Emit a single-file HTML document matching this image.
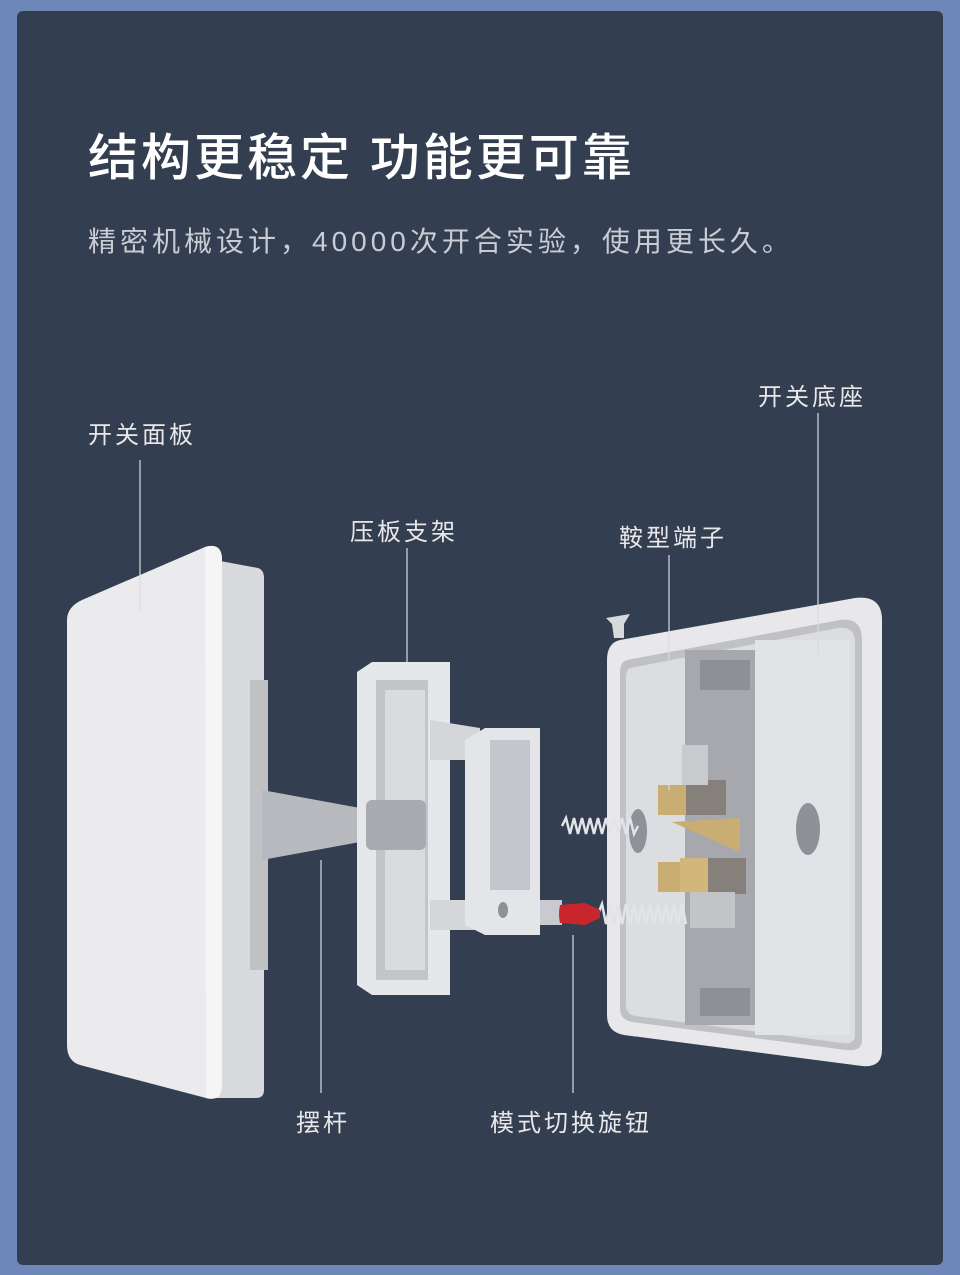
<!DOCTYPE html>
<html><head><meta charset="utf-8"><style>
html,body{margin:0;padding:0}
body{width:960px;height:1275px;background:#6c87b8;position:relative;overflow:hidden;font-family:"Liberation Sans","Noto Sans CJK SC",sans-serif}
.inner{position:absolute;left:17px;top:11px;width:926px;height:1254px;background:#343e51;border-radius:6px}
.t{position:absolute;color:#fff;white-space:nowrap}
.l{font-size:24px;color:#e8e8ea;letter-spacing:3px}
svg{position:absolute;left:0;top:0}
</style></head><body>
<div class="inner"></div>
<div class="t" style="left:88px;top:118px;font-size:50px;font-weight:500;letter-spacing:3px">结构更稳定 功能更可靠</div>
<div class="t" style="left:88px;top:220px;font-size:28px;color:#c9ccd3;letter-spacing:4px">精密机械设计，40000次开合实验，使用更长久。</div>
<div class="t l" style="left:88px;top:415px">开关面板</div>
<div class="t l" style="left:350px;top:512px">压板支架</div>
<div class="t l" style="left:619px;top:518px">鞍型端子</div>
<div class="t l" style="left:758px;top:377px">开关底座</div>
<div class="t l" style="left:296px;top:1103px">摆杆</div>
<div class="t l" style="left:490px;top:1103px">模式切换旋钮</div>
<svg width="960" height="1275" viewBox="0 0 960 1275">
<path d="M215 560 L258 568 Q264 570 264 578 L264 1090 Q264 1098 256 1098 L215 1098 Z" fill="#d9dadd"/>
<rect x="250" y="680" width="18" height="290" fill="#bfc1c5"/>
<path d="M262 790 L360 808 L360 842 L262 860 Z" fill="#b7b9be"/>
<path d="M82 600 L205 547 Q222 542 222 560 L222 1085 Q222 1102 206 1098 L80 1065 Q67 1061 67 1045 L67 620 Q67 607 82 600 Z" fill="#ebebed"/>
<path d="M205 547 Q222 542 222 560 L222 1085 Q222 1102 206 1098 Z" fill="#f5f5f6"/>
<path d="M357 672 L372 662 L450 662 L450 995 L372 995 L357 985 Z" fill="#e6e7ea"/>
<rect x="376" y="680" width="52" height="300" fill="#c3c5ca"/>
<rect x="385" y="690" width="40" height="280" fill="#dadbdf"/>
<path d="M430 720 L480 728 L480 760 L430 760 Z" fill="#d5d6da"/>
<path d="M430 900 L480 900 L480 930 L430 930 Z" fill="#d5d6da"/>
<rect x="366" y="800" width="60" height="50" rx="6" fill="#a9abb1"/>
<path d="M465 740 L485 728 L540 728 L540 935 L485 935 L465 925 Z" fill="#e4e5e8"/>
<rect x="490" y="740" width="40" height="150" fill="#c4c6cb"/>
<ellipse cx="503" cy="910" rx="5" ry="8" fill="#8d9096"/>
<rect x="540" y="900" width="22" height="25" fill="#c9cacf"/>
<path d="M620 640 L855 598 Q882 595 882 620 L882 1050 Q882 1068 862 1066 L624 1035 Q607 1032 607 1015 L607 660 Q607 643 620 640 Z" fill="#e8e8ea"/>
<path d="M627 660 L840 620 Q862 617 862 640 L862 1040 Q862 1052 846 1050 L632 1022 Q620 1020 620 1008 L620 672 Q620 662 627 660 Z" fill="#bfc1c5"/>
<path d="M630 668 L838 628 Q855 626 855 642 L855 1035 Q855 1045 842 1043 L636 1016 Q626 1015 626 1004 L626 678 Q626 670 630 668 Z" fill="#dcdde0"/>
<rect x="685" y="650" width="70" height="375" fill="#a6a8ad"/>
<rect x="700" y="660" width="50" height="30" fill="#8e9096"/>
<rect x="700" y="988" width="50" height="28" fill="#8e9096"/>
<rect x="755" y="640" width="95" height="395" fill="#e2e3e6"/>
<ellipse cx="638" cy="831" rx="9" ry="22" fill="#8e9197"/>
<ellipse cx="808" cy="829" rx="12" ry="26" fill="#8e9197"/>
<rect x="658" y="785" width="28" height="30" fill="#c9ad72"/>
<rect x="686" y="780" width="40" height="35" fill="#86807a"/>
<rect x="682" y="745" width="26" height="40" fill="#c8cacd"/>
<path d="M672 822 L740 818 L740 852 L712 840 Z" fill="#c9ad72"/>
<rect x="658" y="862" width="22" height="30" fill="#c9ad72"/>
<rect x="680" y="858" width="28" height="34" fill="#d3b77a"/>
<rect x="708" y="858" width="38" height="36" fill="#86807a"/>
<rect x="690" y="892" width="45" height="36" fill="#c2c4c8"/>
<path d="M606 618 L630 614 L624 624 L624 638 L614 638 L612 624 Z" fill="#d8d9dc"/>
<g stroke="#e2e4e7" stroke-width="2.5" fill="none">
<path d="M562 826 l4 -8 l4 16 l4 -16 l4 16 l4 -16 l4 16 l4 -16 l4 16 l4 -16 l4 16 l4 -16 l4 16 l4 -16 l4 16 l4 -16 l4 16 l4 -16 l4 16 l4 -8"/>
<path d="M598 914 l4 -10 l4 20 l4 -20 l4 20 l4 -20 l4 20 l4 -20 l4 20 l4 -20 l4 20 l4 -20 l4 20 l4 -20 l4 20 l4 -20 l4 20 l4 -20 l4 20 l4 -20 l4 20 l4 -20 l4 20"/>
</g>
<path d="M560 905 Q558 914 560 923 L585 925 L600 918 L600 910 L585 903 Z" fill="#c9252c"/>
<g stroke="#d8dbe0" stroke-width="1.2">
<line x1="140" y1="460" x2="140" y2="610"/>
<line x1="407" y1="548" x2="407" y2="662"/>
<line x1="669" y1="555" x2="669" y2="790"/>
<line x1="818" y1="413" x2="818" y2="655"/>
<line x1="321" y1="860" x2="321" y2="1093"/>
<line x1="573" y1="935" x2="573" y2="1093"/>
</g>
</svg>
</body></html>
